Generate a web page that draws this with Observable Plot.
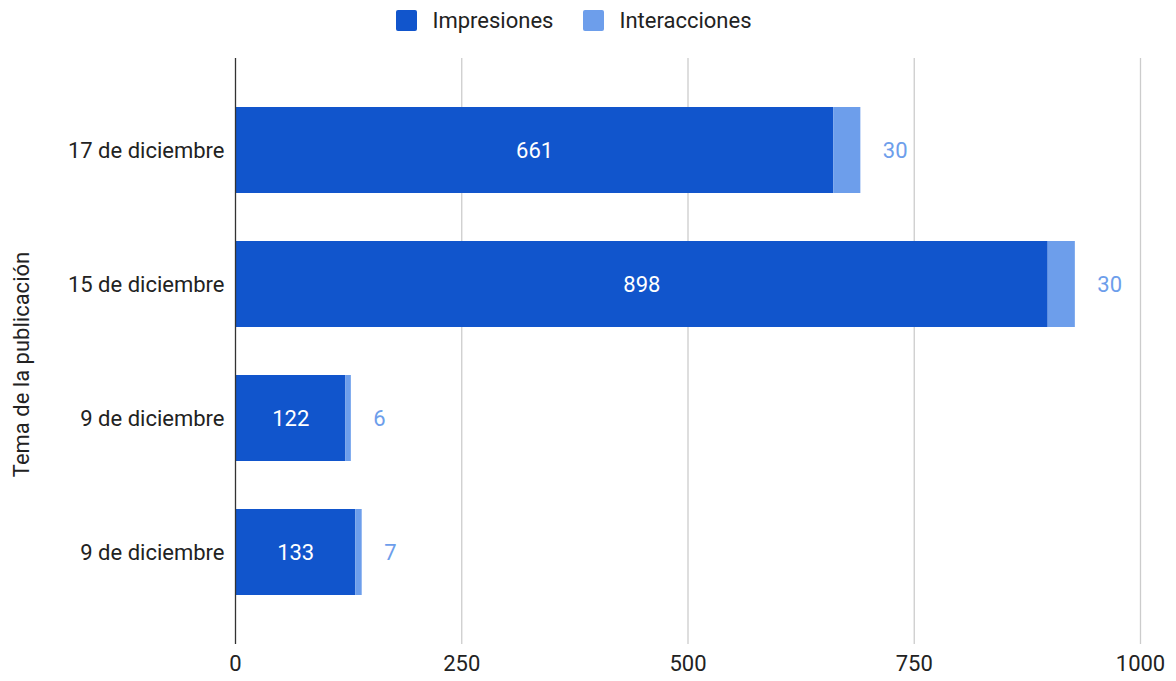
<!DOCTYPE html>
<html>
<head>
<meta charset="utf-8">
<script src="https://cdn.jsdelivr.net/npm/d3@7"></script>
<script src="https://cdn.jsdelivr.net/npm/@observablehq/plot@0.6"></script>
<style>
  html, body { margin: 0; padding: 0; background: #fff; }
  body { width: 1176px; height: 681px; overflow: hidden; font-family: Roboto, sans-serif; }
  #legend { height: 40px; display: flex; justify-content: center; align-items: center; font-size: 22px; color: #222; padding-right: 28px; box-sizing: border-box; }
  .item { display: flex; align-items: center; margin: 0 15px; }
  .sw { width: 21px; height: 21px; border-radius: 2px; margin-right: 15px; }
</style>
</head>
<body>
<div id="legend"></div>
<div id="chart"></div>
<script>
const categories = ["17 de diciembre", "15 de diciembre", "9 de diciembre", "9 de diciembre"];
const impresiones = [661, 898, 122, 133];
const interacciones = [30, 30, 6, 7];
const seriesNames = ["Impresiones", "Interacciones"];
const seriesColors = ["#1155cc", "#6d9eeb"];
const xTicks = [0, 250, 500, 750, 1000];
const yTitle = "Tema de la publicación";

const legend = document.getElementById("legend");
seriesNames.forEach((s, k) => {
  const it = document.createElement("div");
  it.className = "item";
  const sw = document.createElement("div");
  sw.className = "sw";
  sw.style.background = seriesColors[k];
  const t = document.createElement("span");
  t.textContent = s;
  it.appendChild(sw); it.appendChild(t);
  legend.appendChild(it);
});

const idx = categories.map((_, i) => i);
const rows = [];
idx.forEach(i => {
  rows.push({i, series: seriesNames[0], value: impresiones[i]});
  rows.push({i, series: seriesNames[1], value: interacciones[i]});
});
const impRows = idx.map(i => ({i, value: impresiones[i]}));
const intRows = idx.map(i => ({i, total: impresiones[i] + interacciones[i], value: interacciones[i]}));

const chart = Plot.plot({
  width: 1176,
  height: 641,
  marginTop: 18,
  marginBottom: 37,
  marginLeft: 235,
  marginRight: 36,
  style: {fontFamily: "Roboto, sans-serif", fontSize: "22px", color: "#222", background: "#fff"},
  x: {domain: [0, 1000], ticks: xTicks},
  y: {domain: idx, padding: 0.36},
  color: {domain: seriesNames, range: seriesColors},
  marks: [
    Plot.gridX(xTicks.filter(v => v > 0), {stroke: "#cccccc", strokeOpacity: 1, strokeWidth: 1.3}),
    Plot.axisX({ticks: xTicks, tickSize: 0, tickPadding: 11, label: null, tickFormat: d => String(d)}),
    Plot.axisY({tickSize: 0, tickPadding: 11, tickFormat: i => categories[i], label: null}),
    Plot.text([yTitle], {frameAnchor: "left", dx: -214, dy: 13, rotate: -90, textAnchor: "middle", lineAnchor: "middle", fill: "#222"}),
    Plot.barX(rows, Plot.stackX({y: "i", x: "value", fill: "series", order: seriesNames})),
    Plot.ruleX([0], {stroke: "#333", strokeWidth: 1.3}),
    Plot.text(impRows, Plot.stackX({y: "i", x: "value", text: d => String(d.value), fill: "#fff"})),
    Plot.text(intRows, {y: "i", x: "total", text: d => String(d.value), fill: "#6d9eeb", textAnchor: "start", dx: 22})
  ]
});
document.getElementById("chart").appendChild(chart);
</script>
</body>
</html>
